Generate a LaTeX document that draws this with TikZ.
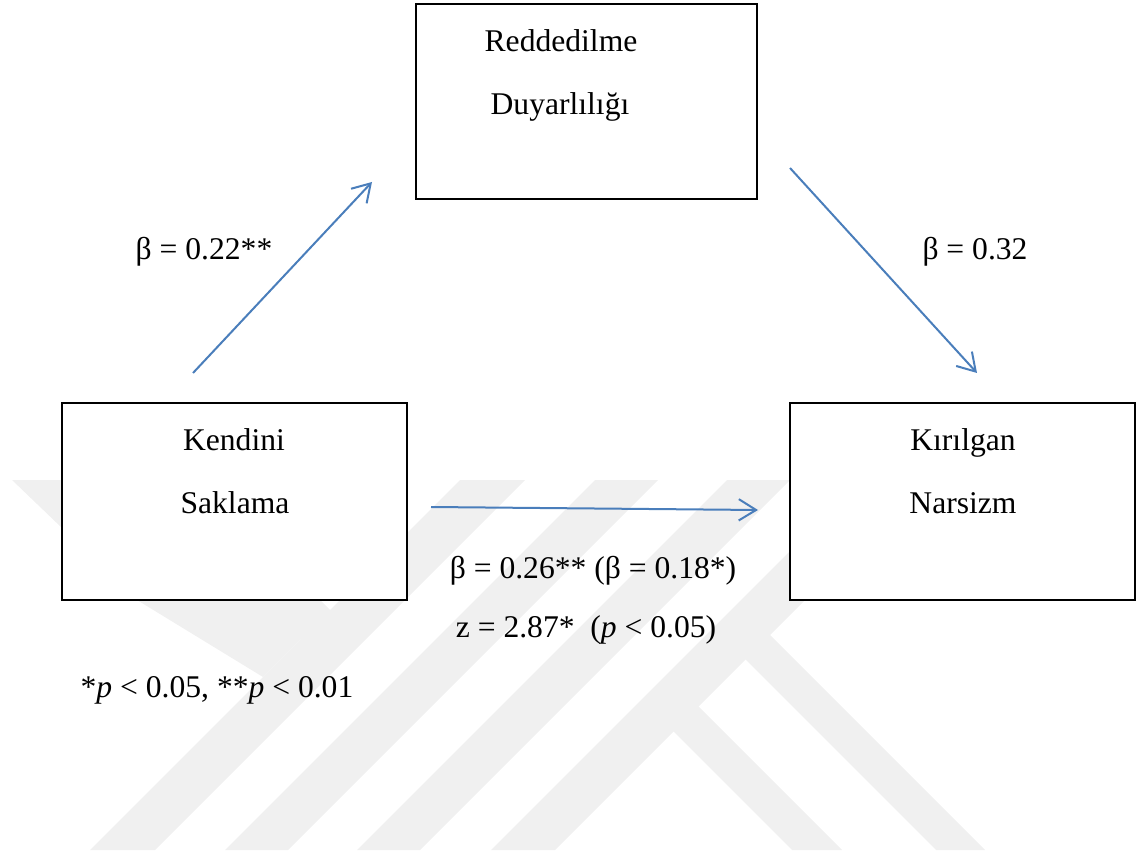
\documentclass[tikz,border=0pt]{standalone}
\usepackage{fontspec}
\setmainfont{Liberation Serif}
\usetikzlibrary{arrows.meta}
\definecolor{arrowblue}{RGB}{74,126,187}
\definecolor{wmgray}{RGB}{240,240,240}
\begin{document}
\begin{tikzpicture}[x=0.75pt,y=-0.75pt,
  box/.style={draw=black,line width=0.9pt,fill=white,inner sep=0pt},
  lbl/.style={anchor=base,inner sep=0pt,font=\fontsize{23.7pt}{28pt}\selectfont},
  conn/.style={draw=arrowblue,line width=1.5pt,-{Straight Barb[length=13pt,width=16pt]}},
  wm/.style={fill=wmgray}]
\useasboundingbox (0,0) rectangle (1138,855);
% faint background watermark
\fill[wm] (12,480) -- (200,480) -- (336,616) -- (300,640) -- (263,677) -- (137,600) -- cycle;
\fill[wm] (460,480) -- (525,480) -- (155,850) -- (90,850) -- cycle;
\fill[wm] (595,480) -- (658,480) -- (288,850) -- (225,850) -- cycle;
\fill[wm] (727,480) -- (790,480) -- (420,850) -- (357,850) -- cycle;
\fill[wm] (861,480) -- (925,480) -- (555,850) -- (491,850) -- cycle;
\fill[wm] (752.5,617.5) -- (985,850) -- (936,850) -- (728,642) -- cycle;
\fill[wm] (681,689) -- (842,850) -- (792,850) -- (656,714) -- cycle;
% boxes
\node[box,minimum width=255.75pt,minimum height=146.25pt] (rd) at (586.5,101.5) {};
\node[box,minimum width=258.75pt,minimum height=147.75pt] (ks) at (234.5,501.5) {};
\node[box,minimum width=258.75pt,minimum height=147.75pt] (kn) at (962.5,501.5) {};
% box texts
\node[lbl] (rd1) at (561,52) {Reddedilme};
\node[lbl] (rd2) at (560,115) {Duyarlılığı};
\node[lbl] (ks1) at (234,450) {Kendini};
\node[lbl] (ks2) at (235,513) {Saklama};
\node[lbl] (kn1) at (963,450) {Kırılgan};
\node[lbl] (kn2) at (963,513) {Narsizm};
% path labels
\node[lbl] (la) at (204,260) {β = 0.22**};
\node[lbl] (lb) at (975,260) {β = 0.32};
\node[lbl] (lc) at (593,578) {β = 0.26** (β = 0.18*)};
\node[lbl] (ld) at (586,637) {z = 2.87*\ \ (\textit{p} < 0.05)};
\node[lbl] (le) at (217,697) {*\textit{p} < 0.05, **\textit{p} < 0.01};
% connectors
\coordinate (a1s) at (193,373);
\coordinate (a1e) at (372,182);
\coordinate (a2s) at (790,168);
\coordinate (a2e) at (977,373);
\coordinate (a3s) at (431,507);
\coordinate (a3e) at (758,510);
\draw[conn] (a1s) -- (a1e);
\draw[conn] (a2s) -- (a2e);
\draw[conn] (a3s) -- (a3e);
\end{tikzpicture}
\end{document}
